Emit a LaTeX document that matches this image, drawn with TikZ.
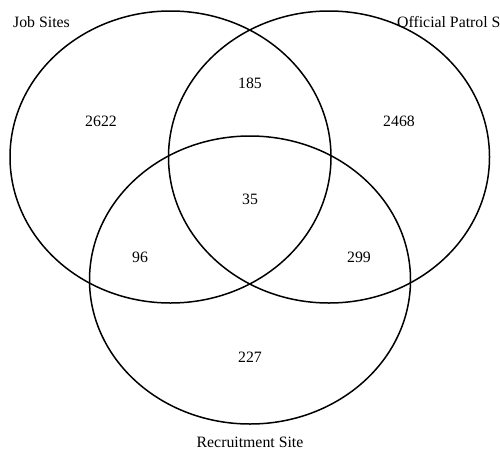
\documentclass[tikz,border=0pt]{standalone}
\usepackage{fontspec}
\setmainfont{Liberation Serif}
\begin{document}
\begin{tikzpicture}[x=1pt, y=-1pt,
    set/.style = {draw, line width=1.5pt},
    num/.style = {font=\fontsize{15.8}{18}\selectfont, inner sep=0pt}]
            \useasboundingbox (0,0) rectangle (500,458);
            \clip (0,0) rectangle (500,458);
            \draw[set] (170.5,157) ellipse [x radius=160.5, y radius=146];
            \draw[set] (329,157) ellipse [x radius=160.5, y radius=146];
            \draw[set] (250,280) ellipse [x radius=160.5, y radius=144];
            \node[num] (jobonly) at (101,121) {2622};
            \node[num] (jobpatrol) at (250,83) {185};
            \node[num] (patrolonly) at (399,121) {2468};
            \node[num] (all) at (250,199) {35};
            \node[num] (jobrecruit) at (140,257) {96};
            \node[num] (patrolrecruit) at (359,257) {299};
            \node[num] (recruitonly) at (250,357) {227};
            \node[num, anchor=west] (job) at (13,22) {Job Sites};
            \node[num, anchor=west] (patrol) at (397,22) {Official Patrol S};
            \node[num] (recruit) at (250,442) {Recruitment Site};
        \end{tikzpicture}
\end{document}
